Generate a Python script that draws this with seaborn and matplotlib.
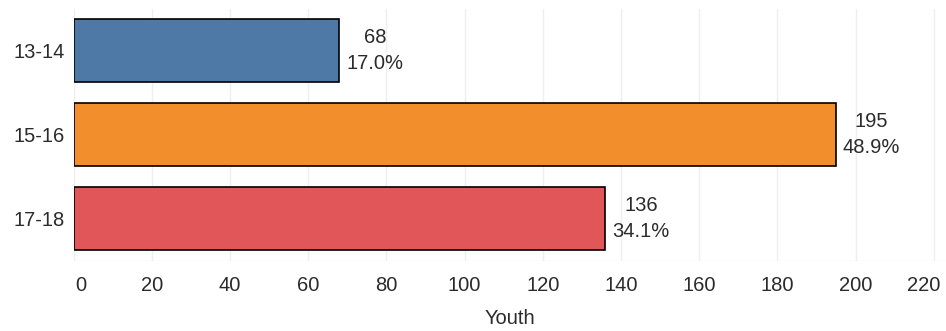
import matplotlib
matplotlib.use("Agg")
import matplotlib.pyplot as plt
import matplotlib.transforms as mtransforms
import seaborn as sns
import pandas as pd

categories = ["13-14", "15-16", "17-18"]
counts = [68, 195, 136]
percents = ["17.0%", "48.9%", "34.1%"]
colors = ["#4E79A7", "#F28E2B", "#E15759"]
x_ticks = [0, 20, 40, 60, 80, 100, 120, 140, 160, 180, 200, 220]

sns.set_theme(style="white")
plt.rcParams["font.family"] = ["Liberation Sans", "DejaVu Sans"]

df = pd.DataFrame({"age": categories, "youth": counts})

fig = plt.figure(figsize=(9.46, 3.31), dpi=100)
ax = fig.add_axes([73.5 / 946, 70.5 / 331, 872 / 946, 252 / 331])

sns.barplot(data=df, y="age", x="youth", hue="age", palette=colors,
            order=categories, hue_order=categories, dodge=False, legend=False,
            width=0.75, saturation=1, edgecolor="black", linewidth=1.2, ax=ax)

txt_color = "#2b2b2b"
fs = 14.5
for patch, c, p in zip(ax.patches, counts, percents):
    yc = patch.get_y() + patch.get_height() / 2
    ax.annotate(f"{c}\n{p}", xy=(patch.get_width(), yc), xytext=(5, 0),
                textcoords="offset points", ha="left", va="center",
                multialignment="center", fontsize=fs, color=txt_color,
                linespacing=1.45)

ax.set_xlim(0, 223)
ax.set_ylim(2.5, -0.5)
ax.set_xticks(x_ticks)
ax.set_xticklabels([str(t) for t in x_ticks], fontsize=fs, color=txt_color)
ax.tick_params(axis="x", length=0, pad=11)
ax.tick_params(axis="y", length=0, pad=6, labelsize=fs, labelcolor=txt_color)
ax.set_ylabel("")
ax.set_xlabel("Youth", fontsize=fs, color=txt_color, labelpad=10)

# nudge the first and last x tick labels inward as in the reference
xl = ax.get_xticklabels()
xl[0].set_transform(xl[0].get_transform() + mtransforms.ScaledTranslation(7 / 100, 0, fig.dpi_scale_trans))
xl[-1].set_transform(xl[-1].get_transform() + mtransforms.ScaledTranslation(-10 / 100, 0, fig.dpi_scale_trans))

ax.grid(axis="x", color="#efefef", linewidth=1)
ax.set_axisbelow(True)
for s in ax.spines.values():
    s.set_visible(False)
ax.axhline(2.5, color="#f2f2f2", linewidth=1)

fig.savefig("out.png", dpi=100)
